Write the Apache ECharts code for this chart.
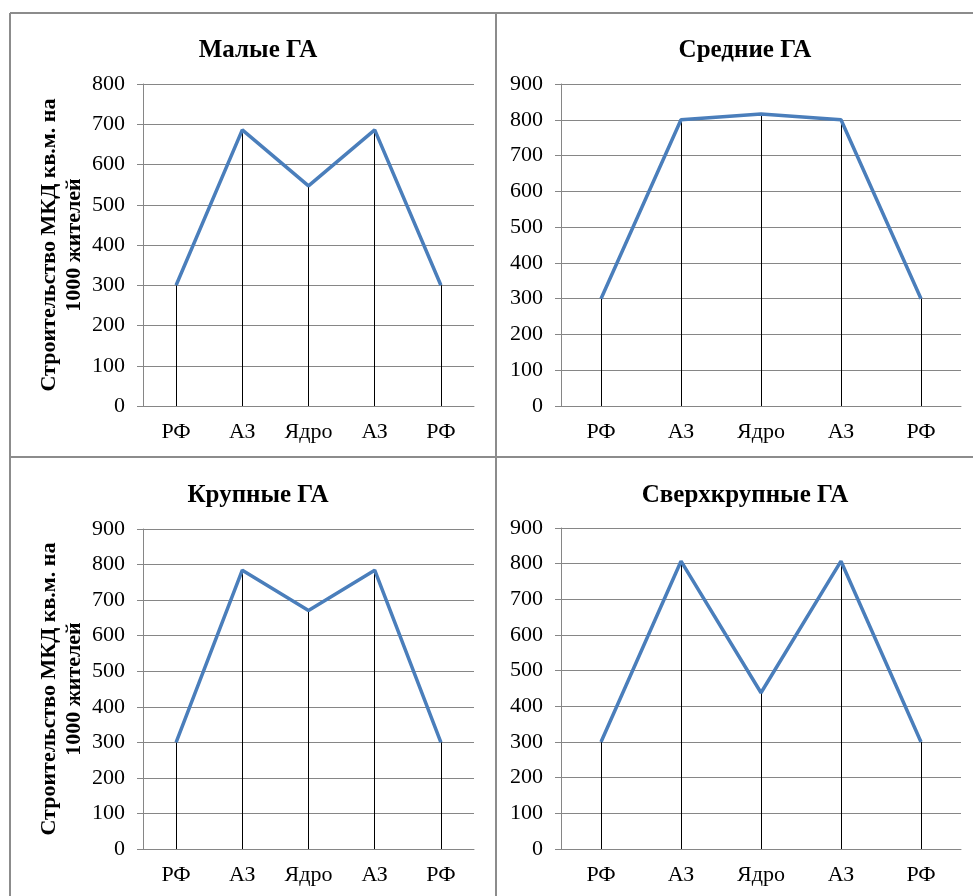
<!DOCTYPE html>
<html><head><meta charset="utf-8">
<script src="https://cdn.jsdelivr.net/npm/echarts@6/dist/echarts.min.js"></script>
<style>html,body{margin:0;padding:0;background:#fff}#c{width:973px;height:896px}</style>
</head><body><div id="c"></div>
<script>
const categories = ['РФ', 'АЗ', 'Ядро', 'АЗ', 'РФ'];
const titles = ['Малые ГА', 'Средние ГА', 'Крупные ГА', 'Сверхкрупные ГА'];
const smallGA = [300, 686, 547, 686, 300];
const mediumGA = [300, 800, 816, 800, 300];
const largeGA = [300, 784, 671, 784, 300];
const hugeGA = [300, 807, 438, 807, 300];
const yMax = [800, 900, 900, 900];
const yName = 'Строительство МКД кв.м. на\n1000 жителей';

const seriesData = [smallGA, mediumGA, largeGA, hugeGA];
const grids = [
  {left: 143, top: 84, width: 331, height: 322},
  {left: 561, top: 84, width: 400, height: 322},
  {left: 143, top: 529, width: 331, height: 320},
  {left: 561, top: 528, width: 400, height: 321}
];
const titlePos = [
  {x: 253, y: 33}, {x: 740, y: 33}, {x: 253, y: 478}, {x: 740, y: 478}
];
const FONT = '"Liberation Serif", "Times New Roman", serif';
const chart = echarts.init(document.getElementById('c'), null, {renderer: 'canvas'});

const option = {
  animation: false,
  backgroundColor: '#fff',
  title: titles.map((t, i) => ({
    text: t, left: titlePos[i].x, top: titlePos[i].y, textAlign: 'center',
    textStyle: {fontFamily: FONT, fontWeight: 'bold', fontSize: 25, color: '#000'}
  })),
  grid: grids,
  xAxis: grids.map((g, i) => ({
    type: 'category', gridIndex: i, data: categories, boundaryGap: true,
    axisLine: {show: true, lineStyle: {color: '#868686', width: 1}},
    axisTick: {show: false},
    axisLabel: {fontFamily: FONT, fontSize: 22, color: '#000', margin: 15},
    splitLine: {show: false}
  })),
  yAxis: grids.map((g, i) => ({
    type: 'value', gridIndex: i, min: 0, max: yMax[i], interval: 100,
    name: (i % 2 === 0) ? yName : '',
    nameLocation: 'middle', nameRotate: 90, nameGap: 56,
    nameTextStyle: {fontFamily: FONT, fontWeight: 'bold', fontSize: 22, color: '#000', lineHeight: 25},
    axisLine: {show: true, lineStyle: {color: '#868686', width: 1}},
    axisTick: {show: true, length: 6, inside: false, lineStyle: {color: '#868686'}},
    axisLabel: {fontFamily: FONT, fontSize: 22, color: '#000', margin: 18},
    splitLine: {show: true, lineStyle: {color: '#868686', width: 1}}
  })),
  series: seriesData.map((d, i) => ({
    type: 'line', xAxisIndex: i, yAxisIndex: i, data: d,
    symbol: 'none', lineStyle: {color: '#4A7EBB', width: 3.5},
    z: 3,
    markLine: {
      silent: true, symbol: 'none', label: {show: false},
      lineStyle: {color: '#000', width: 1, type: 'solid'},
      z: 2,
      data: d.map((v, k) => [{coord: [k, 0]}, {coord: [k, v]}])
    }
  })),
  graphic: [
    {type: 'line', shape: {x1: 10, y1: 13, x2: 973, y2: 13}, style: {stroke: '#8c8c8c', lineWidth: 2}},
    {type: 'line', shape: {x1: 10, y1: 13, x2: 10, y2: 896}, style: {stroke: '#8c8c8c', lineWidth: 2}},
    {type: 'line', shape: {x1: 496, y1: 13, x2: 496, y2: 896}, style: {stroke: '#8c8c8c', lineWidth: 2}},
    {type: 'line', shape: {x1: 10, y1: 457, x2: 973, y2: 457}, style: {stroke: '#8c8c8c', lineWidth: 2}}
  ]
};
chart.setOption(option);
</script>
</body></html>
